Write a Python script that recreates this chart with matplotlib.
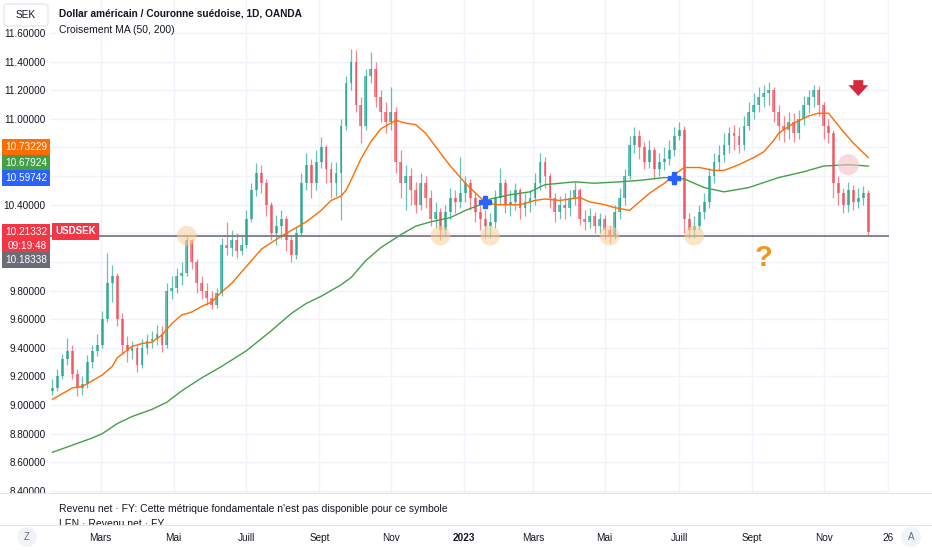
import numpy as np
import pandas as pd
import matplotlib
matplotlib.use('Agg')
import matplotlib.pyplot as plt
from matplotlib.patches import FancyBboxPatch
from matplotlib.transforms import IdentityTransform

plt.rcParams['font.family'] = ['Liberation Sans', 'DejaVu Sans']

# USDSEK, candles of 3 trading days (open = previous close)
start_date = '2022-01-19'
first_open = 9.10
closes = [9.12, 9.20, 9.32, 9.38, 9.22, 9.12, 9.15, 9.30, 9.38, 9.42,
          9.60, 9.85, 9.90, 9.60, 9.42, 9.38, 9.40, 9.28, 9.40, 9.45,
          9.46, 9.50, 9.42, 9.80, 9.82, 9.90, 9.92, 10.15, 10.00, 9.85,
          9.80, 9.75, 9.70, 9.78, 10.12, 10.10, 10.15, 10.08, 10.12, 10.30,
          10.50, 10.62, 10.55, 10.40, 10.20, 10.25, 10.30, 10.15, 10.05, 10.20,
          10.55, 10.68, 10.55, 10.70, 10.80, 10.65, 10.55, 10.62, 10.95, 11.25,
          11.40, 11.10, 10.95, 11.30, 11.35, 11.15, 11.05, 10.98, 11.05, 10.70,
          10.55, 10.60, 10.50, 10.40, 10.55, 10.45, 10.30, 10.35, 10.22, 10.35,
          10.45, 10.42, 10.48, 10.55, 10.45, 10.35, 10.30, 10.25, 10.28, 10.45,
          10.55, 10.40, 10.42, 10.50, 10.38, 10.42, 10.45, 10.55, 10.70, 10.60,
          10.45, 10.35, 10.40, 10.38, 10.45, 10.50, 10.30, 10.28, 10.32, 10.25,
          10.30, 10.22, 10.18, 10.35, 10.45, 10.60, 10.82, 10.88, 10.80, 10.70,
          10.78, 10.65, 10.70, 10.72, 10.78, 10.88, 10.92, 10.30, 10.22, 10.25,
          10.35, 10.42, 10.60, 10.70, 10.75, 10.82, 10.90, 10.88, 10.82, 10.95,
          11.05, 11.10, 11.15, 11.18, 11.20, 11.05, 10.95, 10.92, 10.98, 10.90,
          11.00, 11.10, 11.15, 11.20, 11.10, 10.95, 10.90, 10.55, 10.48, 10.40,
          10.50, 10.42, 10.45, 10.48, 10.21]
highs = [9.18, 9.25, 9.36, 9.47, 9.42, 9.25, 9.20, 9.35, 9.42, 9.50,
         9.66, 10.06, 9.98, 9.92, 9.64, 9.48, 9.45, 9.42, 9.46, 9.50,
         9.52, 9.56, 9.55, 9.85, 9.90, 9.96, 10.00, 10.19, 10.16, 10.02,
         9.90, 9.85, 9.80, 9.82, 10.17, 10.28, 10.22, 10.20, 10.18, 10.36,
         10.55, 10.69, 10.68, 10.58, 10.42, 10.33, 10.36, 10.32, 10.18, 10.25,
         10.62, 10.76, 10.72, 10.78, 10.87, 10.82, 10.70, 10.70, 11.00, 11.30,
         11.49, 11.48, 11.15, 11.35, 11.47, 11.40, 11.20, 11.12, 11.22, 11.08,
         10.78, 10.68, 10.66, 10.56, 10.62, 10.60, 10.50, 10.42, 10.38, 10.40,
         10.52, 10.50, 10.73, 10.60, 10.58, 10.48, 10.40, 10.36, 10.34, 10.50,
         10.66, 10.58, 10.50, 10.55, 10.52, 10.48, 10.50, 10.62, 10.76, 10.73,
         10.62, 10.48, 10.46, 10.48, 10.50, 10.56, 10.52, 10.36, 10.38, 10.35,
         10.34, 10.33, 10.26, 10.40, 10.52, 10.65, 10.88, 10.94, 10.92, 10.84,
         10.85, 10.80, 10.76, 10.80, 10.85, 10.94, 10.98, 10.95, 10.34, 10.32,
         10.40, 10.48, 10.66, 10.76, 10.82, 10.90, 10.94, 10.96, 10.94, 11.02,
         11.12, 11.18, 11.22, 11.24, 11.26, 11.22, 11.10, 11.02, 11.05, 11.04,
         11.06, 11.16, 11.20, 11.24, 11.23, 11.12, 11.00, 10.92, 10.60, 10.52,
         10.56, 10.54, 10.52, 10.53, 10.50]
lows = [9.07, 9.10, 9.18, 9.28, 9.18, 9.06, 9.07, 9.12, 9.26, 9.34,
        9.40, 9.58, 9.72, 9.55, 9.36, 9.30, 9.32, 9.23, 9.26, 9.36,
        9.40, 9.42, 9.37, 9.40, 9.74, 9.78, 9.84, 9.90, 9.95, 9.78,
        9.74, 9.70, 9.67, 9.68, 9.76, 10.05, 10.04, 10.03, 10.05, 10.10,
        10.28, 10.46, 10.48, 10.32, 10.15, 10.12, 10.16, 10.08, 10.00, 10.02,
        10.18, 10.50, 10.45, 10.50, 10.66, 10.55, 10.45, 10.46, 10.29, 10.92,
        11.20, 11.05, 10.83, 10.92, 11.25, 11.08, 10.98, 10.90, 10.92, 10.62,
        10.45, 10.36, 10.40, 10.34, 10.36, 10.38, 10.25, 10.24, 10.15, 10.18,
        10.30, 10.34, 10.38, 10.42, 10.36, 10.28, 10.22, 10.17, 10.17, 10.24,
        10.40, 10.34, 10.32, 10.36, 10.30, 10.32, 10.35, 10.40, 10.50, 10.52,
        10.38, 10.28, 10.30, 10.30, 10.32, 10.40, 10.26, 10.22, 10.24, 10.20,
        10.20, 10.16, 10.13, 10.16, 10.30, 10.40, 10.58, 10.76, 10.72, 10.65,
        10.66, 10.58, 10.60, 10.64, 10.68, 10.74, 10.85, 10.20, 10.17, 10.17,
        10.22, 10.30, 10.38, 10.55, 10.64, 10.70, 10.76, 10.78, 10.76, 10.78,
        10.92, 11.00, 11.05, 11.08, 11.10, 10.98, 10.85, 10.84, 10.86, 10.84,
        10.86, 10.96, 11.04, 11.08, 11.02, 10.86, 10.83, 10.45, 10.40, 10.34,
        10.35, 10.36, 10.38, 10.40, 10.19]

# moving averages, at candle numbers
ma50_candle = [0, 3, 4, 6, 8, 10, 12, 13, 16, 18, 20, 22, 24, 26, 28, 30, 32, 34,
               36, 38, 40, 42, 46, 48, 51, 54, 56, 58, 59, 60, 62, 64, 66, 69, 71,
               73, 75, 78, 80, 83, 86, 87, 89, 92, 94, 97, 99, 102, 106, 108, 111,
               113, 116, 118, 120, 123, 125, 127, 130, 133, 135, 138, 141, 143,
               145, 146, 149, 152, 154, 156, 159, 161, 164]
ma50 = [9.04, 9.10, 9.12, 9.13, 9.17, 9.21, 9.27, 9.33, 9.41, 9.43, 9.44, 9.49,
        9.57, 9.63, 9.65, 9.69, 9.72, 9.79, 9.85, 9.93, 10.01, 10.09, 10.18,
        10.22, 10.28, 10.36, 10.43, 10.46, 10.50, 10.57, 10.72, 10.84, 10.93,
        10.99, 10.97, 10.96, 10.90, 10.76, 10.67, 10.55, 10.45, 10.42, 10.40,
        10.40, 10.40, 10.43, 10.44, 10.43, 10.45, 10.42, 10.40, 10.38, 10.36,
        10.42, 10.48, 10.55, 10.61, 10.66, 10.66, 10.64, 10.64, 10.68, 10.73,
        10.77, 10.85, 10.90, 10.97, 11.02, 11.04, 11.04, 10.91, 10.83, 10.73]
ma200_candle = [0, 4, 8, 10, 13, 16, 20, 23, 26, 30, 34, 39, 44, 48, 51, 54, 58,
                60, 63, 66, 70, 73, 76, 80, 83, 86, 88, 92, 96, 99, 102, 105, 109,
                114, 118, 123, 127, 131, 135, 140, 146, 151, 155, 160, 164]
ma200 = [8.67, 8.72, 8.77, 8.80, 8.87, 8.92, 8.97, 9.02, 9.10, 9.19, 9.27, 9.38,
         9.52, 9.64, 9.71, 9.76, 9.84, 9.89, 10.01, 10.10, 10.19, 10.25, 10.28,
         10.31, 10.36, 10.40, 10.44, 10.47, 10.49, 10.54, 10.55, 10.56, 10.55,
         10.56, 10.57, 10.59, 10.58, 10.52, 10.49, 10.52, 10.59, 10.63, 10.67,
         10.68, 10.67]

level = 10.18338
last_price = 10.21332
cross_candles = [87, 125]
touch_candles = [27, 78, 88, 112, 129]
exit_candle = 160
arrow_candle = 162
question_candle = 143

tick_dates = ['2022-03-01', '2022-05-01', '2022-07-01', '2022-09-01', '2022-11-01',
              '2023-01-01', '2023-03-01', '2023-05-01', '2023-07-01', '2023-09-01',
              '2023-11-01', '2023-12-26']
tick_labels = ['Mars', 'Mai', 'Juill', 'Sept', 'Nov', '2023', 'Mars', 'Mai',
               'Juill', 'Sept', 'Nov', '26']

STEP = 3
TXT = '#131722'
GRID = '#f0f3fa'
UP, DOWN = '#089981', '#f23645'

dates = pd.bdate_range(start_date, periods=540)
tick_pos = [dates.searchsorted(pd.Timestamp(d)) for d in tick_dates]

c = np.array(closes)
o = np.array([first_open] + closes[:-1])
h = np.array(highs)
l = np.array(lows)
x = np.arange(len(c)) * STEP
cols = np.where(c >= o, UP, DOWN)

W, H = 932, 550
fig = plt.figure(figsize=(W / 100, H / 100), dpi=100)
ax = fig.add_axes([50 / W, 57 / H, 839 / W, 493 / H])
ax.set_xlim(-1.5, 504.5)
ax.set_ylim(8.3855, 11.8306)
for s in ax.spines.values():
    s.set_visible(False)

yt = np.round(np.arange(8.4, 11.61, 0.2), 1)
ax.set_yticks(yt)
# labels under the price tags are hidden, as on the chart
hidden = {10.0, 10.2, 10.6, 10.8}
ax.set_yticklabels(['' if v in hidden else '%.5f' % v for v in yt])
ax.tick_params(axis='y', length=0, pad=3, labelsize=7.2, labelcolor=TXT)
ax.set_xticks(tick_pos)
ax.set_xticklabels(tick_labels)
ax.tick_params(axis='x', length=0, pad=29, labelsize=7.2, labelcolor=TXT)
for t in ax.get_xticklabels():
    if t.get_text() == '2023':
        t.set_fontweight('bold')
ax.grid(True, color=GRID, lw=1)
ax.set_axisbelow(True)

# candles
ax.vlines(x, l, h, colors=cols, lw=0.9, alpha=0.6, zorder=2)
ax.bar(x, np.maximum(np.abs(c - o), 0.008), bottom=np.minimum(o, c), width=1.7,
       color=cols, alpha=0.6, zorder=2)

# moving averages
m50x = np.array(ma50_candle) * STEP
m200x = np.array(ma200_candle) * STEP
ax.plot(m50x, ma50, color='#ff6d00', lw=1.0, zorder=3)
ax.plot(m200x, ma200, color='#43a047', lw=1.0, zorder=3)

cx = np.array(cross_candles) * STEP
ax.plot(cx, np.interp(cx, m200x, ma200), ls='none', marker='P', ms=8,
        color='#2962ff', mec='#2962ff', zorder=5)

ax.axhline(level, color='#787b86', lw=1.3, zorder=3)
ax.scatter(np.array(touch_candles) * STEP, [level] * len(touch_candles), s=200,
           color='#fbd09a', alpha=0.55, edgecolors='none', zorder=4)
ex = exit_candle * STEP
ax.scatter([ex], [np.interp(ex, m200x, ma200)], s=230, color='#f7bfcc', alpha=0.6,
           edgecolors='none', zorder=4)

ax.annotate('', xy=(arrow_candle * STEP, 11.14), xytext=(arrow_candle * STEP, 11.29),
            arrowprops=dict(arrowstyle='simple,head_length=0.6,head_width=1.1,tail_width=0.55',
                            fc='#d42a3c', ec='none', mutation_scale=13), zorder=5)
ax.text(question_candle * STEP, 10.03, '?', fontsize=21, fontweight='bold',
        color='#f7931a', ha='center', va='center', zorder=5)

# symbol tag on the price line
ax.text(5 / 839, last_price, 'USDSEK', transform=ax.get_yaxis_transform(),
        fontsize=7, fontweight='bold', color='white', ha='left', va='center',
        bbox=dict(boxstyle='square,pad=0.35', fc=DOWN, ec='none'), zorder=6)

# price tags on the scale
tags = [('10.73229', 10.73229, 7.2, '#ff6d00'),
        ('10.67924', 10.67924, 1.3, '#43a047'),
        ('10.59742', 10.59742, -1.3, '#2962ff'),
        ('10.21332\n09:19:48', last_price, -5.6, DOWN),
        ('10.18338', level, -17.5, '#6a6d78')]
for txt, val, dy, col in tags:
    ax.annotate(txt, xy=(0, val), xycoords=ax.get_yaxis_transform(),
                xytext=(-2.2, dy), textcoords='offset points', ha='right',
                va='center', fontsize=7.2, color='white', linespacing=1.45,
                bbox=dict(boxstyle='square,pad=0.3', fc=col, ec='none'),
                annotation_clip=False, zorder=6)

# headers
fig.patches.append(FancyBboxPatch((4, H - 26), 44, 22, boxstyle='round,pad=0,rounding_size=3',
                                  fc='white', ec='#e0e3eb', lw=0.8,
                                  transform=IdentityTransform(), figure=fig))
fig.text(26 / W, 1 - 15 / H, 'SEK', fontsize=7.2, color=TXT, ha='center', va='center')
fig.text(59 / W, 1 - 14 / H, 'Dollar américain / Couronne suédoise, 1D, OANDA',
         fontsize=7.3, fontweight='bold', color=TXT, va='center')
fig.text(59 / W, 1 - 30 / H, 'Croisement MA (50, 200)', fontsize=7.5, color=TXT,
         va='center')

# fundamentals pane
ax2 = fig.add_axes([0, 25 / H, 1, 32 / H])
ax2.set_xlim(0, W)
ax2.set_ylim(32, 0)
ax2.set_xticks([])
ax2.set_yticks([])
for k, s in ax2.spines.items():
    s.set_visible(k in ('top', 'bottom'))
    s.set_color('#e0e3eb')
ax2.text(59, 16, "Revenu net · FY: Cette métrique fondamentale n'est pas disponible pour ce symbole",
         fontsize=7.5, color=TXT, va='center', clip_on=True)
ax2.text(59, 31, 'LEN · Revenu net · FY', fontsize=7.5, color=TXT, va='center',
         clip_on=True)

for px, lab in [(27, 'Z'), (911, 'A')]:
    fig.text(px / W, 13 / H, lab, fontsize=7, color='#6a6d78', ha='center', va='center',
             bbox=dict(boxstyle='circle,pad=0.5', fc='#f0f3fa', ec='none'))

fig.savefig('out.png', dpi=100)
